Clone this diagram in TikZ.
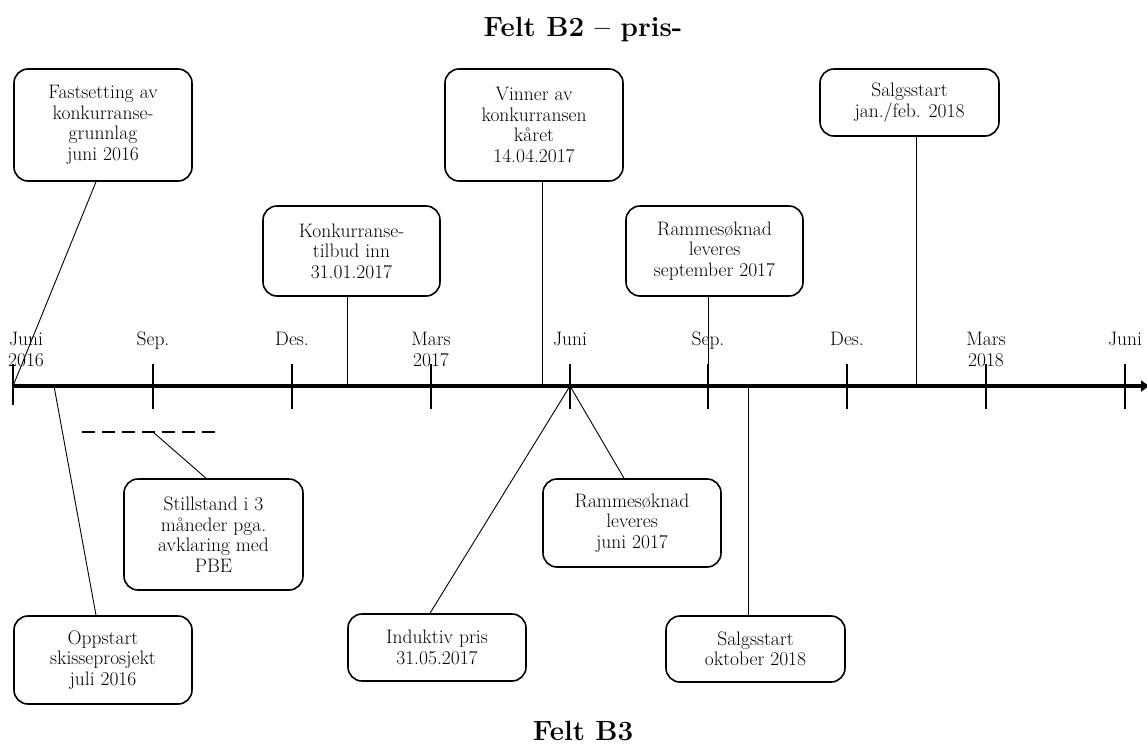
\documentclass[tikz,border=0pt]{standalone}
\usepackage{fontspec}
\usetikzlibrary{arrows.meta}
\begin{document}
\begin{tikzpicture}[x=1pt,y=-1pt,
  box/.style={draw,line width=1.6pt,rounded corners=14pt,align=center,inner sep=0pt,
              font=\fontsize{19.5}{20.6}\selectfont},
  lead/.style={line width=0.9pt},
  tickmark/.style={line width=1.2pt},
  monthlabel/.style={anchor=base,align=center,inner sep=0pt,font=\fontsize{19.5}{21}\selectfont},
  heading/.style={font=\fontsize{27.8}{30}\selectfont\bfseries}]
\useasboundingbox (0,0) rectangle (1147,744);

% headings
\node[heading] (hB2) at (583,30) {Felt B2 -- pris-};
\node[heading] (hB3) at (583,731) {Felt B3};

% time axis
\coordinate (axs) at (13,386);
\coordinate (axe) at (1149,386);
\draw[line width=3.2pt,-{Triangle[length=8pt,width=11pt]}] (axs) -- (axe);

% month ticks and labels (two-line labels sit on the baseline of their last line)
\foreach \x/\lab/\by [count=\i] in {153/Sep./345, 292/Des./345, 431/Mars\\2017/366, 570/Juni/345,
                                    708/Sep./345, 847/Des./345, 986/Mars\\2018/366, 1125/Juni/345}{
  \coordinate (tk\i) at (\x,386);
  \draw[tickmark] ([yshift=-23pt]tk\i) -- ([yshift=22pt]tk\i);
  \node[monthlabel] (ml\i) at (\x,\by) {\lab};
}
\draw[tickmark] ([yshift=-19pt]axs) -- ([yshift=22pt]axs);
\node[monthlabel] (ml0) at (26,366) {Juni\\2016};

% event boxes above the axis
\node[box,minimum width=178pt,minimum height=112pt] (fast) at (103,125)
  {Fastsetting av\\konkurranse-\\grunnlag\\juni 2016};
\node[box,minimum width=177pt,minimum height=90pt] (konk) at (351.5,251)
  {Konkurranse-\\tilbud inn\\31.01.2017};
\node[box,minimum width=178pt,minimum height=112pt] (vinn) at (534,125)
  {Vinner av\\konkurransen\\kåret\\14.04.2017};
\node[box,minimum width=177pt,minimum height=90pt] (rsep) at (714.5,251)
  {Rammesøknad\\leveres\\september 2017};
\node[box,minimum width=179pt,minimum height=67pt] (sjan) at (909.5,102.5)
  {Salgsstart\\jan./feb. 2018};

% event boxes below the axis
\node[box,minimum width=178pt,minimum height=88pt] (opp) at (103,660)
  {Oppstart\\skisseprosjekt\\juli 2016};
\node[box,minimum width=179pt,minimum height=111pt] (still) at (213.5,534.5)
  {Stillstand i 3\\måneder pga.\\avklaring med\\PBE};
\node[box,minimum width=178pt,minimum height=67pt] (ind) at (437,647.5)
  {Induktiv pris\\31.05.2017};
\node[box,minimum width=178pt,minimum height=88pt] (rjun) at (632,523)
  {Rammesøknad\\leveres\\juni 2017};
\node[box,minimum width=179pt,minimum height=66pt] (sokt) at (755.5,649)
  {Salgsstart\\oktober 2018};

% anchor points on the axis
\coordinate (akonk) at (347,386);
\coordinate (avinn) at (542,386);
\coordinate (asjan) at (916,386);
\coordinate (aopp) at (54,386);
\coordinate (asokt) at (748,386);

% three-month pause
\coordinate (ps) at (82,432);
\coordinate (pe) at (218,432);
\coordinate (pm) at (153,432);
\draw[line width=2.4pt,dash pattern=on 12.5pt off 7.5pt] (ps) -- (pe);

% leader lines
\draw[lead] ([xshift=-7pt]fast.south) -- (axs);
\draw[lead] (konk.south -| akonk) -- (akonk);
\draw[lead] (vinn.south -| avinn) -- (avinn);
\draw[lead] (rsep.south -| tk5) -- (tk5);
\draw[lead] (sjan.south -| asjan) -- (asjan);
\draw[lead] ([xshift=-7pt]opp.north) -- (aopp);
\draw[lead] ([xshift=-7.5pt]still.north) -- (pm);
\draw[lead] ([xshift=-7pt]ind.north) -- (tk4);
\draw[lead] ([xshift=-8pt]rjun.north) -- (tk4);
\draw[lead] (sokt.north -| asokt) -- (asokt);
\end{tikzpicture}
\end{document}
